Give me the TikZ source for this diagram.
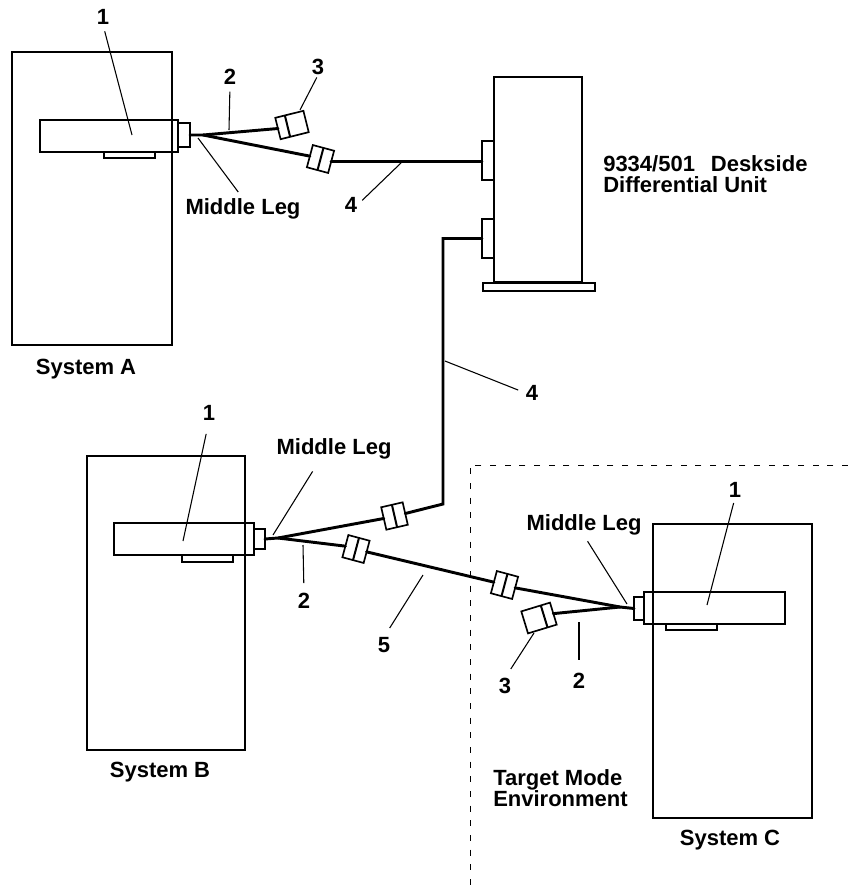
\documentclass[tikz,border=0pt]{standalone}
\usepackage{fontspec}
\setmainfont{Liberation Sans}
\usetikzlibrary{calc}
\tikzset{
	box/.style 2 args={draw, line width=1.25pt, anchor=north west, inner sep=0pt, outer sep=0pt,
		minimum width=#1*0.75pt, minimum height=#2*0.75pt},
	plug/.style n args={3}{draw, line width=1.25pt, rotate=#1, inner sep=0pt, outer sep=0pt,
		minimum width=#2*0.75pt, minimum height=#3*0.75pt},
	cable/.style={line width=2.2pt, line cap=round, line join=miter},
	leader/.style={line width=0.8pt},
	tag/.style={font=\bfseries\fontsize{16.5}{16.25}\selectfont, inner sep=0pt, align=left},
}
\newcommand{\plugbar}[2]{\draw[line width=1.5pt] ($(#1.north west)!#2!(#1.north east)$) -- ($(#1.south west)!#2!(#1.south east)$);}
\begin{document}
\begin{tikzpicture}[x=0.75pt, y=-0.75pt]
	\useasboundingbox (0,0) rectangle (848,890);
	% system A
	\node[box={160}{293}] (sysA) at (12,52) {};
	\node[box={138}{32}] (cardA) at (40,120) {};
	\node[box={12}{24}] (endA) at (178,123) {};
	\node[box={51}{6}] (clipA) at (104,152) {};
	\node[plug={14}{29}{22}] (plugA) at (292,125) {};
	\node[plug={-15}{22}{23}] (plugD) at (320.5,159) {};
	\plugbar{plugA}{0.34}
	\plugbar{plugD}{0.5}
	\coordinate (legA) at (203,135);
	\draw[cable] (endA.east) -- (legA) -- (plugA.west);
	\draw[cable] (legA) -- (plugD.west);
	% deskside unit
	\node[box={88}{205}] (unit) at (494,77) {};
	\node[box={112}{8}] (base) at (483,283) {};
	\node[box={12}{39}] (tabU) at (482,141) {};
	\node[box={12}{39}] (tabL) at (482,219) {};
	\draw[cable] (plugD.east) -- (plugD.east -| tabU.west);
	% system B
	\node[box={158}{294}] (sysB) at (87,456) {};
	\node[box={140}{32}] (cardB) at (114,523) {};
	\node[box={11}{20}] (endB) at (254,529) {};
	\node[box={51}{7}] (clipB) at (182,555) {};
	\node[plug={13}{22}{23}] (plugB) at (394.5,516) {};
	\node[plug={-15}{22}{23}] (plugE) at (356,549) {};
	\plugbar{plugB}{0.5}
	\plugbar{plugE}{0.5}
	\coordinate (legB) at (278,538);
	\coordinate (bendB) at (443,504);
	\draw[cable] (endB.east) -- (legB) -- (plugB.west);
	\draw[cable] (legB) -- (plugE.west);
	\draw[cable] (plugB.east) -- (bendB) -- (bendB |- tabL.west) -- (tabL.west);
	% system C
	\node[box={159}{294}] (sysC) at (653,524) {};
	\node[box={141}{32}] (cardC) at (644,592) {};
	\node[box={10}{23}] (endC) at (634,597) {};
	\node[box={51}{6}] (clipC) at (666,624) {};
	\node[plug={-15}{22}{23}] (plugF) at (504.5,585) {};
	\node[plug={17}{30}{23}] (plugC) at (539,618) {};
	\plugbar{plugF}{0.5}
	\plugbar{plugC}{0.68}
	\coordinate (legC) at (620,607);
	\draw[cable] (plugE.east) -- (plugF.west);
	\draw[cable] (plugF.east) -- (legC) -- (endC.west);
	\draw[cable] (plugC.east) -- (legC);
	% target mode boundary
	\coordinate (cornerT) at (470,465);
	\draw[line width=0.7pt, dash pattern=on 4.5pt off 6.5pt] (848,465) -- (cornerT) -- (470,890);
	% labels
	\node[tag] (sysAname) at (86,369) {System A};
	\node[tag] (sysBname) at (160,772) {System B};
	\node[tag] (sysCname) at (730,840) {System C};
	\node[tag, anchor=west] (unitname) at (603,174) {9334/501\ \ \,Deskside\\Differential Unit};
	\node[tag, anchor=west] (targetname) at (493,788) {Target Mode\\Environment};
	\node[tag] (legAname) at (243,209) {Middle Leg};
	\node[tag] (legBname) at (334,449) {Middle Leg};
	\node[tag] (legCname) at (584,525) {Middle Leg};
	\node[tag] (oneA) at (103,17) {1};
	\node[tag] (twoA) at (230,77) {2};
	\node[tag] (threeA) at (318,67) {3};
	\node[tag] (fourA) at (351,205) {4};
	\node[tag] (fourB) at (532,393) {4};
	\node[tag] (oneB) at (209,413) {1};
	\node[tag] (twoB) at (304,601) {2};
	\node[tag] (fiveB) at (384,645) {5};
	\node[tag] (oneC) at (735,490) {1};
	\node[tag] (twoC) at (579,681) {2};
	\node[tag] (threeC) at (505,686) {3};
	% leaders
	\coordinate (oneAend) at (132,135);
	\coordinate (twoAend) at (229,130);
	\coordinate (threeAend) at (300,110);
	\coordinate (legAend) at (198,138);
	\coordinate (fourAend) at (402,162);
	\coordinate (fourBend) at (445,361);
	\coordinate (oneBend) at (183,541);
	\coordinate (legBfrom) at ([xshift=-10.5pt]legBname.south);
	\coordinate (legBend) at (273,535);
	\coordinate (twoBend) at (303,545);
	\coordinate (fiveBend) at (423,575);
	\coordinate (legCend) at (627,604);
	\coordinate (oneCend) at (707,605);
	\coordinate (twoCend) at (579,622);
	\coordinate (threeCend) at (534,633);
	\foreach \lab/\tip/\gap in {oneA.south/oneAend/5pt, twoA.south/twoAend/5pt, threeA.south/threeAend/2pt,
		legAname.north/legAend/6pt, fourA.east/fourAend/5pt, fourB.west/fourBend/6pt,
		oneB.south/oneBend/10pt, legBfrom/legBend/10.5pt, twoB.north/twoBend/7.5pt,
		fiveB.north/fiveBend/8pt, legCname.south/legCend/5pt, oneC.south/oneCend/4pt,
		twoC.north/twoCend/10pt, threeC.north/threeCend/8pt}
		\draw[leader, shorten <=\gap] (\lab) -- (\tip);
\end{tikzpicture}
\end{document}
